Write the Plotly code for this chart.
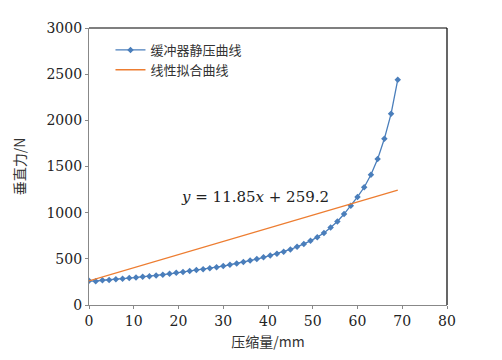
import plotly.graph_objects as go

# Measured static compression curve of the buffer
compression_mm = [0, 1.5, 3, 4.5, 6, 7.5, 9, 10.5, 12, 13.5, 15, 16.5, 18, 19.5, 21, 22.5,
                  24, 25.5, 27, 28.5, 30, 31.5, 33, 34.5, 36, 37.5, 39, 40.5, 42, 43.5, 45,
                  46.5, 48, 49.5, 51, 52.5, 54, 55.5, 57, 58.5, 60, 61.5, 63, 64.5, 66, 67.5, 69]
force_N = [262, 258, 268, 272, 278, 285, 292, 298, 305, 312, 320, 328, 338, 348, 358, 368,
           378, 388, 398, 410, 422, 436, 450, 466, 482, 498, 516, 536, 556, 578, 602,
           630, 660, 695, 735, 780, 840, 905, 985, 1075, 1170, 1275, 1410, 1580, 1800, 2070, 2440]

# Linear fit line as drawn (endpoints)
fit_x = [0, 69]
fit_y = [262, 1245]

x_ticks = [0, 10, 20, 30, 40, 50, 60, 70, 80]
y_ticks = [0, 500, 1000, 1500, 2000, 2500, 3000]

serif = "DejaVu Serif"
cjk = "Noto Sans CJK SC"

fig = go.Figure()
fig.add_trace(go.Scatter(
    x=compression_mm, y=force_N, mode="lines+markers", name="缓冲器静压曲线",
    line=dict(color="#4A7EBB", width=1.3),
    marker=dict(symbol="diamond", size=5, color="#4A7EBB"),
))
fig.add_trace(go.Scatter(
    x=fit_x, y=fit_y, mode="lines", name="线性拟合曲线",
    line=dict(color="#ED7D31", width=1.3),
))

fig.add_annotation(
    x=37, y=1170, xref="x", yref="y", showarrow=False,
    text="<i>y</i> = 11.85<i>x</i> + 259.2",
    font=dict(family=serif, size=15, color="#222"),
)

# The page body adds an 8px offset, so the figure is sized to compensate
fig.update_layout(
    width=494, height=352,
    margin=dict(l=79, r=55, t=15, b=55),
    paper_bgcolor="white", plot_bgcolor="white",
    showlegend=True,
    legend=dict(x=0.06, y=0.975, xanchor="left", yanchor="top",
                bgcolor="rgba(0,0,0,0)", font=dict(family=cjk, size=13, color="#333"),
                tracegroupgap=0, itemwidth=30),
    font=dict(family=serif, size=14, color="#222"),
    shapes=[
        dict(type="line", xref="paper", yref="paper", x0=0, x1=1, y0=1, y1=1,
             line=dict(color="black", width=1.2)),
        dict(type="line", xref="paper", yref="paper", x0=1, x1=1, y0=0, y1=1,
             line=dict(color="black", width=1.2)),
    ],
)
fig.update_xaxes(
    range=[0, 80], tickvals=x_ticks, ticks="outside", ticklen=3, tickcolor="#888",
    showline=True, linecolor="#888", linewidth=1.2, showgrid=False, zeroline=False,
    title=dict(text="压缩量/mm", font=dict(family=cjk, size=14, color="#333"), standoff=9),
    tickfont=dict(family=serif, size=14),
)
fig.update_yaxes(
    range=[0, 3000], tickvals=y_ticks, ticks="outside", ticklen=3, tickcolor="#888",
    showline=True, linecolor="#888", linewidth=1.2, showgrid=False, zeroline=False,
    title=dict(text="垂直力/N", font=dict(family=cjk, size=14, color="#333"), standoff=17),
    tickfont=dict(family=serif, size=14),
)

fig.write_html("out.html")
